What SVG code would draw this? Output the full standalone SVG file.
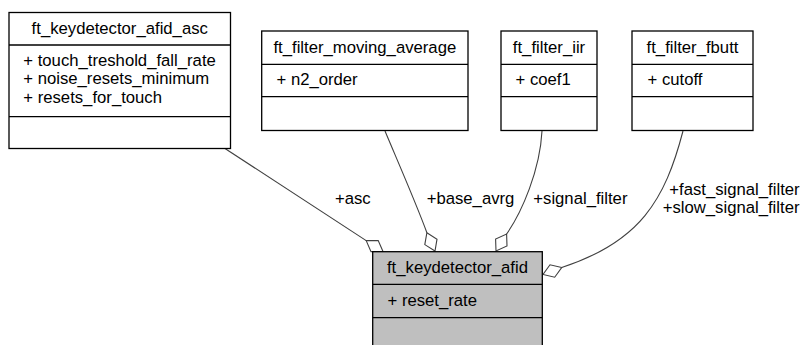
<svg xmlns="http://www.w3.org/2000/svg" width="801" height="345" viewBox="0 0 801 345">
<style>
  text { font-family: "Liberation Sans", Arial, sans-serif; font-size: 16.7px; fill: #000; }
  .box { fill: #ffffff; stroke: #000; stroke-width: 1.3; }
  .main { fill: #bfbfbf; stroke: #000; stroke-width: 1.3; }
  .sep { stroke: #000; stroke-width: 1.3; fill: none; }
  .edge { fill: none; stroke: #404040; stroke-width: 1.1; }
  .dia { fill: #ffffff; stroke: #404040; stroke-width: 1.1; }
  .c { text-anchor: middle; }
</style>
<rect width="801" height="345" fill="#ffffff"/>
<g id="connectors">
  <path class="edge" d="M225,148.5 L366.2,240.6"/>
  <polygon class="dia" points="366.2,240.6 378.2,240.5 383,251.5 371,251.6"/>
  <path class="edge" d="M385,131 C398,162 416,203 426.9,232.7"/>
  <polygon class="dia" points="426.9,232.7 437,239.2 435,251 424.8,244.6"/>
  <path class="edge" d="M542,131 C540,170 522,212 506.6,234"/>
  <polygon class="dia" points="506.6,234 507,246 496,251 495.6,239"/>
  <path class="edge" d="M683,131 C665,200 640,242 561.7,267.5"/>
  <polygon class="dia" points="561.7,267.5 550,264.8 543,274.5 554.7,277.2"/>
  <text x="335" y="204">+asc</text>
  <text x="426.7" y="204">+base_avrg</text>
  <text x="533.3" y="204">+signal_filter</text>
  <text x="669.3" y="195">+fast_signal_filter</text>
  <text x="662.7" y="213">+slow_signal_filter</text>
</g>
<g id="ft_keydetector_afid_asc">
  <rect class="box" x="9" y="12.5" width="221.5" height="136"/>
  <line class="sep" x1="9" y1="45" x2="230.5" y2="45"/>
  <line class="sep" x1="9" y1="116.7" x2="230.5" y2="116.7"/>
  <text class="c" x="119.75" y="33.5">ft_keydetector_afid_asc</text>
  <text x="23.3" y="66">+ touch_treshold_fall_rate</text>
  <text x="23.3" y="84.3">+ noise_resets_minimum</text>
  <text x="23.3" y="102.6">+ resets_for_touch</text>
</g>
<g id="ft_filter_moving_average">
  <rect class="box" x="261.7" y="31" width="206.3" height="99.5"/>
  <line class="sep" x1="261.7" y1="64.3" x2="468" y2="64.3"/>
  <line class="sep" x1="261.7" y1="96.7" x2="468" y2="96.7"/>
  <text class="c" x="364.85" y="52.5">ft_filter_moving_average</text>
  <text x="276.5" y="85">+ n2_order</text>
</g>
<g id="ft_filter_iir">
  <rect class="box" x="501" y="31" width="96" height="99.5"/>
  <line class="sep" x1="501" y1="64.3" x2="597" y2="64.3"/>
  <line class="sep" x1="501" y1="96.7" x2="597" y2="96.7"/>
  <text class="c" x="549" y="52.5">ft_filter_iir</text>
  <text x="515.5" y="85">+ coef1</text>
</g>
<g id="ft_filter_fbutt">
  <rect class="box" x="632" y="31" width="121" height="99.5"/>
  <line class="sep" x1="632" y1="64.3" x2="753" y2="64.3"/>
  <line class="sep" x1="632" y1="96.7" x2="753" y2="96.7"/>
  <text class="c" x="692.5" y="52.5">ft_filter_fbutt</text>
  <text x="647.5" y="85">+ cutoff</text>
</g>
<g id="ft_keydetector_afid">
  <rect class="main" x="372.7" y="251.7" width="169.6" height="100"/>
  <line class="sep" x1="372.7" y1="284.3" x2="542.3" y2="284.3"/>
  <line class="sep" x1="372.7" y1="317.7" x2="542.3" y2="317.7"/>
  <text class="c" x="457.5" y="272.5">ft_keydetector_afid</text>
  <text x="387.5" y="305.5">+ reset_rate</text>
</g>
</svg>
